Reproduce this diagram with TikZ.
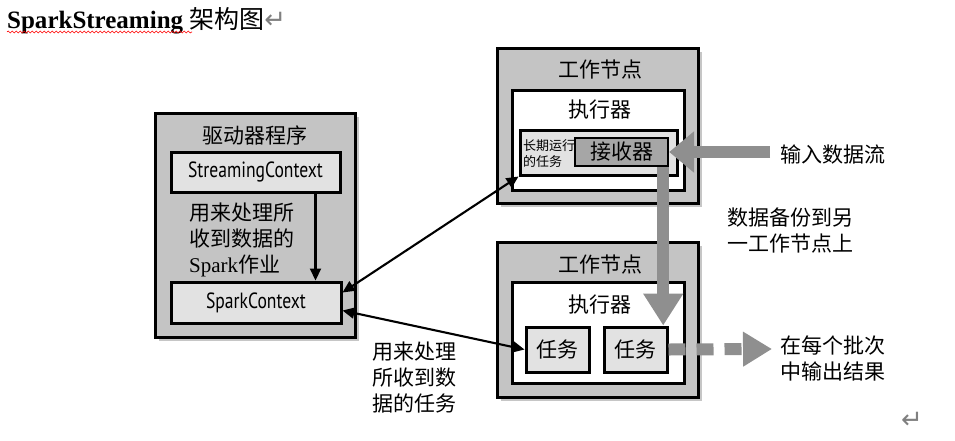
\documentclass[tikz,border=0pt]{standalone}
\usepackage{fontspec}
\setmainfont{Liberation Serif}
\newfontfamily\cjk{Noto Sans CJK SC}
\newfontfamily\narrowsans[FakeStretch=0.8]{PT Sans}
\newfontfamily\symfont{DejaVu Sans}
\usetikzlibrary{arrows.meta,shadows,decorations.pathmorphing}

\definecolor{boxgray}{HTML}{C4C4C4}
\definecolor{lightfill}{HTML}{E2E2E2}
\definecolor{recvfill}{HTML}{A6A6A6}
\definecolor{flowgray}{HTML}{8F8F8F}

\tikzset{
  nodebox/.style={draw, line width=3pt, fill=boxgray, inner sep=0pt,
    drop shadow={shadow xshift=4pt, shadow yshift=-4pt, opacity=0.45}},
  execbox/.style={draw, line width=3pt, fill=white, inner sep=0pt},
  ctxbox/.style={draw, line width=3pt, fill=lightfill, inner sep=0pt,
    font=\narrowsans\fontsize{22}{26}\selectfont},
  taskbox/.style={draw, line width=3pt, fill=lightfill, inner sep=0pt,
    font=\cjk\fontsize{21}{26}\selectfont},
  cjktext/.style={inner sep=0pt, font=\cjk\fontsize{21}{26}\selectfont},
  flowarrow/.style={draw=flowgray, line width=12pt},
  link/.style={line width=2.1pt},
}

\begin{document}
\begin{tikzpicture}[x=1pt,y=-1pt]
  \useasboundingbox (0,0) rectangle (955,440);

  % title
  \node[anchor=base west, inner sep=0pt, font=\bfseries\fontsize{25}{30}\selectfont] (title) at (7,28)
    {SparkStreaming {\mdseries\cjk 架构图}{\mdseries\symfont\fontsize{26}{30}\selectfont\color{gray}↵}};
  \draw[red, line width=0.6pt, decorate, decoration={snake, amplitude=1pt, segment length=4pt}]
    ([yshift=-4pt]title.base west) -- ++(185,0);

  % driver
  \node[nodebox, minimum width=200pt, minimum height=224pt] (driver) at (255,225) {};
  \node[cjktext] (drivertitle) at (255,135) {驱动器程序};
  \node[ctxbox, minimum width=169pt, minimum height=40pt] (sc) at (255.5,172) {StreamingContext};
  \node[ctxbox, minimum width=170pt, minimum height=41pt] (spc) at (256,302.5) {SparkContext};
  \node[cjktext, align=left, anchor=west] (jobnote) at (189,240)
    {用来处理所\\收到数据的\\{\rmfamily Spark}作业};

  % worker 1
  \node[nodebox, minimum width=201pt, minimum height=155pt] (worker1) at (597.5,125.5) {};
  \node[cjktext] (worker1title) at (600,70) {工作节点};
  \node[execbox, minimum width=172pt, minimum height=100pt] (exec1) at (598,140) {};
  \node[cjktext] (exec1title) at (600,110) {执行器};
  \node[draw, line width=3pt, fill=lightfill, minimum width=157pt, minimum height=45pt] (longtask) at (598.5,152.5) {};
  \node[inner sep=0pt, align=left, anchor=west, font=\cjk\fontsize{13}{16}\selectfont] (longtasklabel) at (523,153.5)
    {长期运行\\的任务};
  \node[taskbox, fill=recvfill, line width=2.4pt, minimum width=93pt, minimum height=28pt] (recv) at (621.5,152) {接收器};

  % worker 2
  \node[nodebox, minimum width=201pt, minimum height=155pt] (worker2) at (597.5,319.5) {};
  \node[cjktext] (worker2title) at (600,265) {工作节点};
  \node[execbox, minimum width=172pt, minimum height=101pt] (exec2) at (598,332.5) {};
  \node[cjktext] (exec2title) at (600,305) {执行器};
  \node[taskbox, minimum width=63pt, minimum height=45pt] (task1) at (557.5,349.5) {任务};
  \node[taskbox, minimum width=63pt, minimum height=45pt] (task2) at (635.5,349.5) {任务};

  % notes
  \node[cjktext, anchor=west] (inputlabel) at (780,155) {输入数据流};
  \node[cjktext, align=center] (backuplabel) at (790,230) {数据备份到另\\一工作节点上};
  \node[cjktext, align=left, anchor=west] (outputlabel) at (780,358) {在每个批次\\中输出结果};
  \node[cjktext, align=left, anchor=west] (tasknote) at (372,378) {用来处理\\所收到数\\据的任务};
  \node[inner sep=0pt, font=\symfont\fontsize{26}{30}\selectfont, text=gray] (endmark) at (912,420) {↵};

  % gray data flow
  \coordinate (inputsrc) at (770,152);
  \coordinate (outputdst) at (772,349);
  \draw[flowarrow, -{Triangle[length=25pt,width=40pt]}] (inputsrc) -- (recv.east);
  \draw[flowarrow, -{Triangle[length=32pt,width=38pt]}]
    ([xshift=-6pt]recv.south east) -- ([xshift=-6pt]recv.south east |- task2.north);
  \draw[flowarrow, dash pattern=on 17pt off 11pt, -{Triangle[length=29pt,width=33pt]}] (task2.east) -- (outputdst);

  % black links
  \draw[link, -{Triangle[length=12pt,width=11pt]}] ([xshift=60pt]sc.south) -- ([xshift=60pt]sc.south |- spc.north);
  \draw[link, {Triangle[length=12pt,width=11pt]}-{Triangle[length=12pt,width=11pt]}] ([yshift=10pt]spc.east) -- (longtask.south west);
  \draw[link, {Triangle[length=12pt,width=11pt]}-{Triangle[length=12pt,width=11pt]}] ([yshift=-8pt]spc.east) -- (task1.west);
\end{tikzpicture}
\end{document}
